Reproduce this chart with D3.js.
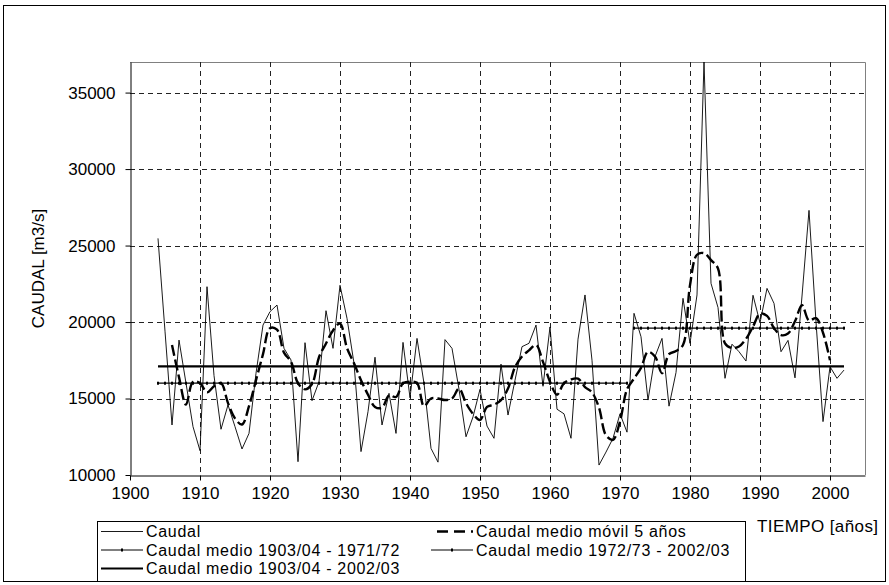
<!DOCTYPE html>
<html>
<head>
<meta charset="utf-8">
<script src="https://cdn.jsdelivr.net/npm/d3@7"></script>
<style>
  body { margin: 0; background: #fff; }
  text { font-family: "Liberation Sans", Arial, sans-serif; fill: #000; }
</style>
</head>
<body>
<div id="chart"></div>
<script>
// caudal anual (m3/s), años hidrológicos 1903/04 - 2002/03
var firstYear = 1904;
var caudal = [
  25470, 19400, 13270, 18820, 16000, 13160, 11590, 22310, 16500, 12990,
  14580, 13160, 11700, 12720, 16650, 19800, 20680, 21110, 18280, 17520,
  10870, 18650, 14860, 16100, 20740, 18280, 22400, 20240, 17300, 11530,
  14140, 17700, 13270, 15340, 12720, 18670, 15050, 18930, 15990, 11740,
  10840, 18850, 18280, 15600, 12500, 13800, 15600, 13200, 12400, 17250,
  13920, 16200, 18390, 18610, 19800, 15800, 19680, 14300, 14000, 12400,
  18880, 21770, 17500, 10650, 11500, 12400, 14000, 12800, 20570, 19040,
  14900, 17740, 18930, 14500, 16700, 21550, 18610, 21770, 37000, 22530,
  20950, 16320, 18550, 18060, 17450, 21750, 19950, 22200, 21220, 18060,
  18800, 16350, 21700, 27300, 20000, 13490, 17080, 16320, 16860
];

// media movil 5 años, 1906 - 2000
var mediaMovilStart = 1906;
var mediaMovil = [
  18500, 16400, 14600, 16100, 16000, 15400, 15800, 16000, 14700, 13700,
  13300, 14500, 16200, 17900, 19600, 19500, 18000, 17400, 16000, 15600,
  15950, 17700, 18600, 19450, 19900, 18300, 17300, 16200, 15250, 14450,
  14400, 15200, 15100, 16000, 16100, 16000, 14500, 15000, 15000, 14900,
  15000, 15650, 14700, 14000, 13600, 14450, 14600, 14900, 15650, 17050,
  17750, 18150, 18500, 17400, 16100, 15250, 16000, 16250, 16300, 15750,
  15400, 14400, 12600, 12300, 13500, 15600, 16300, 17000, 18050, 17750,
  16650, 17900, 18100, 18500, 22400, 24400, 24500, 24050, 23500, 18600,
  18300, 18400, 18900, 19700, 20550, 20400, 19600, 19150, 19250, 20050,
  21100, 20100, 20250, 19300, 17500
];

// medias por periodo
var mediaPeriodos = [
  { label: "Caudal medio 1903/04 - 1971/72", from: 1904, to: 1971, value: 16000 },
  { label: "Caudal medio 1972/73 - 2002/03", from: 1972, to: 2002, value: 19600 }
];
var mediaTotal = { label: "Caudal medio 1903/04 - 2002/03", from: 1904, to: 2002, value: 17100 };

var yTicks = [10000, 15000, 20000, 25000, 30000, 35000];
var xTicks = [1900, 1910, 1920, 1930, 1940, 1950, 1960, 1970, 1980, 1990, 2000];

var width = 889, height = 585;
var padding = { top: 62, right: 24, bottom: 110, left: 130 };
var fontSize = 17;
var legendFont = 16;

var svg = d3.select("#chart").append("svg")
  .attr("width", width)
  .attr("height", height);

// marco exterior
svg.append("rect")
  .attr("x", 3.5).attr("y", 5.5)
  .attr("width", 882).attr("height", 576)
  .attr("fill", "none").attr("stroke", "#000").attr("stroke-width", 1);

var xScale = d3.scaleLinear().domain([1900, 2005]).range([padding.left, width - padding.right]);
var yScale = d3.scaleLinear().domain([10000, 37000]).range([height - padding.bottom, padding.top]);

var x0 = xScale.range()[0], x1 = xScale.range()[1];
var y0 = yScale.range()[0], y1 = yScale.range()[1];

// borde del area de trazado
svg.append("path")
  .attr("d", "M" + x0 + "," + (y1 + 0.5) + "H" + (x1 + 0.5) + "V" + y0)
  .attr("fill", "none").attr("stroke", "#808080").attr("stroke-width", 1);

// rejilla
var grid = svg.append("g").attr("class", "grid");
grid.selectAll(".hgrid")
  .data(yTicks.filter(function(d) { return d > 10000; }))
  .enter().append("line")
  .attr("x1", x0).attr("x2", x1)
  .attr("y1", function(d) { return Math.round(yScale(d)) + 0.5; })
  .attr("y2", function(d) { return Math.round(yScale(d)) + 0.5; })
  .attr("stroke", "#222").attr("stroke-dasharray", "5,4");
grid.selectAll(".vgrid")
  .data(xTicks.filter(function(d) { return d > 1900; }))
  .enter().append("line")
  .attr("x1", function(d) { return Math.round(xScale(d)) + 0.5; })
  .attr("x2", function(d) { return Math.round(xScale(d)) + 0.5; })
  .attr("y1", y1).attr("y2", y0)
  .attr("stroke", "#222").attr("stroke-dasharray", "5,4");

// ejes
var yAxis = d3.axisLeft(yScale).tickValues(yTicks).tickSizeInner(5).tickSizeOuter(0).tickPadding(10)
  .tickFormat(d3.format("d"));
var gy = svg.append("g")
  .attr("transform", "translate(" + (x0 + 0.5) + ",0)")
  .call(yAxis);
gy.selectAll("text").style("font-size", fontSize + "px").style("font-family", "Liberation Sans, Arial, sans-serif");

var xAxis = d3.axisBottom(xScale).tickValues(xTicks).tickSizeInner(5).tickSizeOuter(0).tickPadding(6)
  .tickFormat(d3.format("d"));
var gx = svg.append("g")
  .attr("transform", "translate(0," + (y0 + 0.5) + ")")
  .call(xAxis);
gx.selectAll("text").style("font-size", fontSize + "px").style("font-family", "Liberation Sans, Arial, sans-serif");
svg.selectAll(".domain").attr("stroke", "#000");

// titulo eje y
svg.append("text")
  .attr("transform", "translate(44," + ((y0 + y1) / 2) + ") rotate(-90)")
  .attr("text-anchor", "middle")
  .style("font-size", fontSize + "px")
  .text("CAUDAL [m3/s]");

// titulo eje x
svg.append("text")
  .attr("x", 757).attr("y", 532)
  .style("font-size", fontSize + "px")
  .style("letter-spacing", "0.4px")
  .text("TIEMPO [años]");

// series
var caudalData = caudal.map(function(v, i) { return { year: firstYear + i, value: v }; });
var mmData = mediaMovil.map(function(v, i) { return { year: mediaMovilStart + i, value: v }; });

var line = d3.line()
  .x(function(d) { return xScale(d.year); })
  .y(function(d) { return yScale(d.value); });

var smoothLine = d3.line()
  .curve(d3.curveCatmullRom.alpha(0.5))
  .x(function(d) { return xScale(d.year); })
  .y(function(d) { return yScale(d.value); });

// medias por periodo (linea fina con marcas pequeñas)
mediaPeriodos.forEach(function(p) {
  var pts = d3.range(p.from, p.to + 1).map(function(yr) { return { year: yr, value: p.value }; });
  svg.append("path")
    .datum(pts)
    .attr("d", line)
    .attr("fill", "none").attr("stroke", "#000").attr("stroke-width", 1.2);
  svg.selectAll(null)
    .data(pts)
    .enter().append("rect")
    .attr("x", function(d) { return xScale(d.year) - 1; })
    .attr("y", function(d) { return yScale(d.value) - 1.5; })
    .attr("width", 2).attr("height", 3)
    .attr("fill", "#000");
});

// media total
svg.append("path")
  .datum([{ year: mediaTotal.from, value: mediaTotal.value }, { year: mediaTotal.to, value: mediaTotal.value }])
  .attr("d", line)
  .attr("fill", "none").attr("stroke", "#000").attr("stroke-width", 2.2);

// caudal
svg.append("path")
  .datum(caudalData)
  .attr("d", line)
  .attr("fill", "none").attr("stroke", "#000").attr("stroke-width", 0.9)
  .attr("stroke-linejoin", "miter");

// media movil
svg.append("path")
  .datum(mmData)
  .attr("d", smoothLine)
  .attr("fill", "none").attr("stroke", "#000").attr("stroke-width", 2.4)
  .attr("stroke-dasharray", "11,4");

// leyenda
var legend = svg.append("g").attr("class", "legend");
legend.append("rect")
  .attr("x", 97.5).attr("y", 521.5).attr("width", 648).attr("height", 60)
  .attr("fill", "#fff").attr("stroke", "#000");

var legendItems = [
  { label: "Caudal", col: 0, row: 0, type: "thin" },
  { label: "Caudal medio móvil 5 años", col: 1, row: 0, type: "dash" },
  { label: mediaPeriodos[0].label, col: 0, row: 1, type: "marker" },
  { label: mediaPeriodos[1].label, col: 1, row: 1, type: "marker" },
  { label: mediaTotal.label, col: 0, row: 2, type: "thick" }
];
var colX = [101, 431];
var rowY = [531, 549.5, 568];

legendItems.forEach(function(it) {
  var lx = colX[it.col], ly = rowY[it.row];
  var sample = legend.append("line")
    .attr("x1", lx).attr("x2", lx + 42)
    .attr("y1", ly + 0.5).attr("y2", ly + 0.5)
    .attr("stroke", "#000");
  if (it.type === "thin") sample.attr("stroke-width", 0.9);
  if (it.type === "marker") {
    sample.attr("stroke-width", 1);
    legend.append("rect").attr("x", lx + 20).attr("y", ly - 1).attr("width", 2).attr("height", 3).attr("fill", "#000");
  }
  if (it.type === "thick") sample.attr("stroke-width", 2.2);
  if (it.type === "dash") sample.attr("stroke-width", 2.4).attr("stroke-dasharray", "11,6").attr("x1", lx + 6);
  legend.append("text")
    .attr("x", lx + 45).attr("y", ly + 6)
    .style("font-size", legendFont + "px")
    .style("letter-spacing", "0.7px")
    .text(it.label);
});
</script>
</body>
</html>
